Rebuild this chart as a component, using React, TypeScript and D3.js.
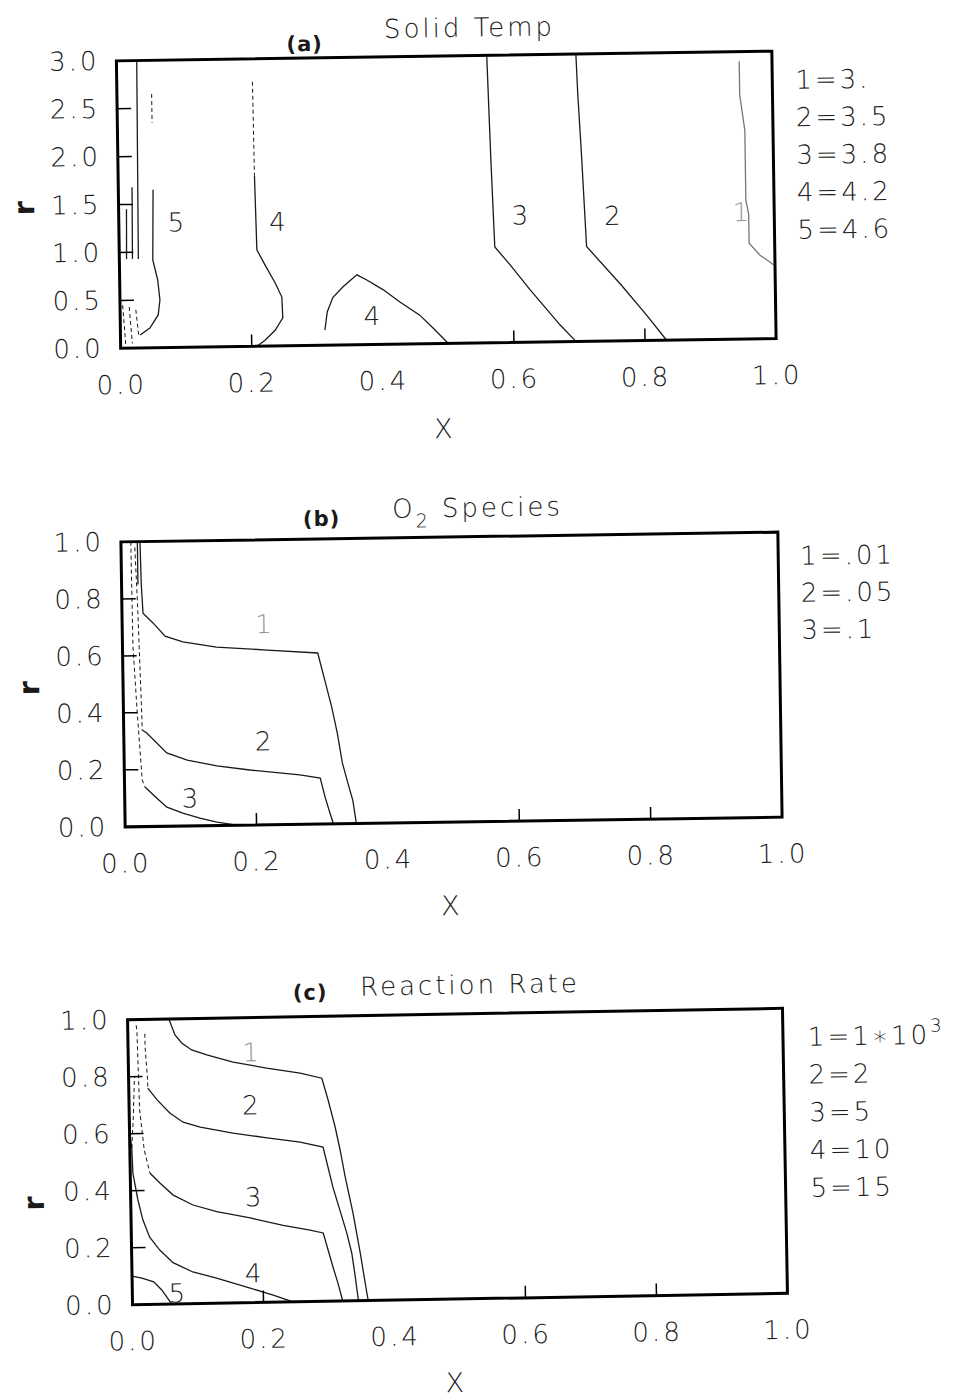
import React, { useEffect, useRef } from "react";
import * as d3 from "d3";

// axes
const xTicks = [0, 0.2, 0.4, 0.6, 0.8, 1.0];
const xTickMarks = [0.2, 0.6, 0.8];
const tempTicks = [0, 0.5, 1.0, 1.5, 2.0, 2.5, 3.0];
const tempTickMarks = [0.5, 1.0, 1.5, 2.0, 2.5];
const unitTicks = [0, 0.2, 0.4, 0.6, 0.8, 1.0];
const unitTickMarks = [0.2, 0.4, 0.6, 0.8];

// contour level legends
const tempLegend = ["1=3.", "2=3.5", "3=3.8", "4=4.2", "5=4.6"];
const o2Legend = ["1=.01", "2=.05", "3=.1"];
const rateLegend = ["1=1\u221710", "2=2", "3=5", "4=10", "5=15"];
const rateLegendSup = ["3", "", "", "", ""];

// (a) solid temp contours, points are [x, r]
const temp1 = [[0.95, 2.9], [0.95, 2.55], [0.957, 2.18], [0.957, 1.45], [0.961, 1.3], [0.961, 1.0], [0.977, 0.875], [1.0, 0.76]];
const temp2 = [[0.701, 3.0], [0.703, 2.58], [0.707, 2.0], [0.713, 0.99], [0.765, 0.583], [0.803, 0.266], [0.833, 0]];
const temp3 = [[0.565, 3.0], [0.569, 1.9], [0.571, 1.44], [0.573, 1.0], [0.596, 0.81], [0.626, 0.546], [0.671, 0.175], [0.695, 0]];
const temp4a = [[0.208, 1.78], [0.21, 1.006], [0.222, 0.848], [0.237, 0.66], [0.247, 0.51], [0.248, 0.293], [0.236, 0.165], [0.22, 0.06], [0.208, 0]];
const temp4aTop = [[0.207, 2.76], [0.208, 1.78]];
const temp4b = [[0.312, 0.16], [0.316, 0.35], [0.325, 0.5], [0.341, 0.61], [0.362, 0.73], [0.377, 0.675], [0.402, 0.57], [0.427, 0.44], [0.457, 0.3], [0.477, 0.164], [0.5, 0]];
const temp5 = [[0.053, 1.65], [0.051, 0.917], [0.058, 0.71], [0.061, 0.5], [0.058, 0.343], [0.045, 0.208], [0.03, 0.136]];
const temp5Top = [[0.053, 2.65], [0.053, 2.35]];
const tempWall1 = [[0.031, 3.0], [0.029, 0.93]];
const tempWall2 = [[0.021, 1.68], [0.02, 0.93]];
const tempWall3 = [[0.012, 1.45], [0.011, 0.93]];
const tempWall4 = [[0.004, 0.45], [0.008, 0.02]];
const tempWall5 = [[0.014, 0.43], [0.018, 0.05]];
const tempWall6 = [[0.024, 0.4], [0.028, 0.12]];

// (b) O2 species contours
const o2c1 = [[0.029, 1.0], [0.03, 0.85], [0.032, 0.749], [0.047, 0.714], [0.065, 0.667], [0.092, 0.646], [0.143, 0.626], [0.22, 0.613], [0.297, 0.6], [0.307, 0.505], [0.317, 0.41], [0.325, 0.318], [0.332, 0.213], [0.34, 0.142], [0.347, 0.082], [0.352, 0]];
const o2c1Wall = [[0.025, 1.0], [0.025, 0.85]];
const o2c2 = [[0.028, 0.339], [0.035, 0.328], [0.065, 0.257], [0.096, 0.231], [0.141, 0.209], [0.191, 0.193], [0.267, 0.173], [0.298, 0.161], [0.305, 0.094], [0.312, 0.038], [0.317, 0]];
const o2c2Wall = [[0.021, 0.98], [0.024, 0.77], [0.028, 0.375], [0.028, 0.339]];
const o2c3 = [[0.031, 0.139], [0.049, 0.099], [0.064, 0.067], [0.088, 0.045], [0.114, 0.027], [0.14, 0.012], [0.17, 0]];
const o2c3Wall = [[0.015, 1.0], [0.016, 0.63], [0.021, 0.4], [0.027, 0.164], [0.031, 0.139]];

// (c) reaction rate contours
const rate1 = [[0.063, 1.0], [0.072, 0.944], [0.082, 0.915], [0.097, 0.89], [0.12, 0.872], [0.16, 0.845], [0.211, 0.822], [0.262, 0.802], [0.295, 0.783], [0.304, 0.706], [0.314, 0.611], [0.321, 0.53], [0.328, 0.435], [0.339, 0.308], [0.349, 0.167], [0.358, 0.027], [0.36, 0]];
const rate2 = [[0.029, 0.759], [0.043, 0.717], [0.062, 0.67], [0.082, 0.637], [0.108, 0.619], [0.158, 0.596], [0.21, 0.577], [0.26, 0.56], [0.295, 0.541], [0.302, 0.471], [0.309, 0.4], [0.319, 0.319], [0.329, 0.238], [0.336, 0.168], [0.34, 0.098], [0.345, 0]];
const rate2Wall = [[0.026, 0.95], [0.026, 0.903], [0.029, 0.787], [0.029, 0.759]];
const rate3 = [[0.03, 0.461], [0.045, 0.425], [0.065, 0.382], [0.095, 0.346], [0.131, 0.321], [0.182, 0.297], [0.232, 0.269], [0.273, 0.251], [0.293, 0.24], [0.3, 0.18], [0.307, 0.12], [0.314, 0.064], [0.321, 0]];
const rate3Wall = [[0.013, 0.98], [0.014, 0.957], [0.016, 0.682], [0.022, 0.542], [0.03, 0.461]];
const rate4 = [[0.0, 0.6], [0.003, 0.553], [0.004, 0.462], [0.011, 0.367], [0.018, 0.297], [0.028, 0.236], [0.043, 0.19], [0.063, 0.145], [0.093, 0.111], [0.129, 0.088], [0.18, 0.051], [0.215, 0.025], [0.245, 0]];
const rate4Wall = [[0.003, 0.55], [0.006, 0.65], [0.009, 0.8]];
const rate5 = [[0.0, 0.1], [0.015, 0.093], [0.033, 0.079], [0.045, 0.05], [0.06, 0]];

// contour number labels [text, x, r, faint]
const tempLabels = [["5", 0.087, 1.31, 0], ["4", 0.242, 1.3, 0], ["4", 0.384, 0.3, 0], ["3", 0.612, 1.33, 0], ["2", 0.753, 1.31, 0], ["1", 0.949, 1.33, 1]];
const o2Labels = [["1", 0.215, 0.705, 1], ["2", 0.212, 0.294, 0], ["3", 0.099, 0.098, 0]];
const rateLabels = [["1", 0.187, 0.879, 1], ["2", 0.185, 0.693, 0], ["3", 0.187, 0.371, 0], ["4", 0.185, 0.104, 0], ["5", 0.068, 0.038, 0]];

const FONT = "'DejaVu Sans', sans-serif";
const INK = "#1a1a1a";

const panels = [
  {
    frame: { l: 118.5, r: 774, t: 56, b: 343.5 },
    angle: -0.85,
    yMax: 3,
    yTicks: tempTicks,
    yMarks: tempTickMarks,
    contours: [
      { pts: temp1, faint: true }, { pts: temp2 }, { pts: temp3 }, { pts: temp4a },
      { pts: temp4aTop, dash: true }, { pts: temp4b }, { pts: temp5 }, { pts: temp5Top, dash: true },
      { pts: tempWall1 }, { pts: tempWall2 }, { pts: tempWall3 },
      { pts: tempWall4, dash: true }, { pts: tempWall5, dash: true }, { pts: tempWall6, dash: true },
    ],
    labels: tempLabels,
    legend: tempLegend,
    legendSup: [],
    legendPos: [797, 94, 37.5],
    tag: ["(a)", 307, 49],
    title: [[{ t: "Solid Temp" }], 472, 37],
    xLabel: [440, 438],
    rLabel: [24, 202],
  },
  {
    frame: { l: 123, r: 780, t: 537, b: 822 },
    angle: -0.85,
    yMax: 1,
    yTicks: unitTicks,
    yMarks: unitTickMarks,
    contours: [
      { pts: o2c1 }, { pts: o2c1Wall }, { pts: o2c2 }, { pts: o2c2Wall, dash: true },
      { pts: o2c3 }, { pts: o2c3Wall, dash: true },
    ],
    labels: o2Labels,
    legend: o2Legend,
    legendSup: [],
    legendPos: [802, 570, 37],
    tag: ["(b)", 324, 524],
    title: [[{ t: "O" }, { t: "2", sub: true }, { t: " Species" }], 480, 517],
    xLabel: [447, 915],
    rLabel: [29, 682],
  },
  {
    frame: { l: 130, r: 785, t: 1014, b: 1299 },
    angle: -1.0,
    yMax: 1,
    yTicks: unitTicks,
    yMarks: unitTickMarks,
    contours: [
      { pts: rate1 }, { pts: rate2 }, { pts: rate2Wall, dash: true }, { pts: rate3 },
      { pts: rate3Wall, dash: true }, { pts: rate4 }, { pts: rate4Wall, dash: true }, { pts: rate5 },
    ],
    labels: rateLabels,
    legend: rateLegend,
    legendSup: rateLegendSup,
    legendPos: [810, 1052, 37.75],
    tag: ["(c)", 313, 997],
    title: [[{ t: "Reaction Rate" }], 473, 994],
    xLabel: [451, 1392],
    rLabel: [33, 1196],
  },
];

function drawPanel(root, p) {
  const { l, r, t, b } = p.frame;
  const g = root.append("g").attr("transform", `rotate(${p.angle},${(l + r) / 2},${(t + b) / 2})`);

  const x = d3.scaleLinear().domain([0, 1]).range([l, r]);
  const y = d3.scaleLinear().domain([0, p.yMax]).range([b, t]);
  const line = d3.line().x((d) => x(d[0])).y((d) => y(d[1]));

  // contour lines
  p.contours.forEach((c) => {
    g.append("path")
      .attr("d", line(c.pts))
      .attr("fill", "none")
      .attr("stroke", c.faint ? "#777" : INK)
      .attr("stroke-width", c.dash ? 1 : 1.3)
      .attr("stroke-dasharray", c.dash ? "4,3" : null);
  });

  // contour numbers
  g.selectAll(".lbl")
    .data(p.labels)
    .enter()
    .append("text")
    .attr("x", (d) => x(d[1]))
    .attr("y", (d) => y(d[2]))
    .attr("dy", "0.36em")
    .attr("text-anchor", "middle")
    .attr("font-family", FONT)
    .attr("font-weight", 200)
    .attr("font-size", 26)
    .attr("fill", (d) => (d[3] ? "#999" : INK))
    .text((d) => d[0]);

  // frame
  g.append("rect")
    .attr("x", l)
    .attr("y", t)
    .attr("width", r - l)
    .attr("height", b - t)
    .attr("fill", "none")
    .attr("stroke", "#000")
    .attr("stroke-width", 3);

  // inward tick marks
  g.selectAll(".ytm")
    .data(p.yMarks)
    .enter()
    .append("line")
    .attr("x1", l)
    .attr("x2", l + 14)
    .attr("y1", (d) => y(d))
    .attr("y2", (d) => y(d))
    .attr("stroke", "#000")
    .attr("stroke-width", 1.5);
  g.selectAll(".xtm")
    .data(xTickMarks)
    .enter()
    .append("line")
    .attr("x1", (d) => x(d))
    .attr("x2", (d) => x(d))
    .attr("y1", b)
    .attr("y2", b - 12)
    .attr("stroke", "#000")
    .attr("stroke-width", 1.5);

  // tick labels
  const yAxis = d3.axisLeft(y).tickValues(p.yTicks).tickFormat(d3.format(".1f")).tickSize(0).tickPadding(17);
  const xAxis = d3.axisBottom(x).tickValues(xTicks).tickFormat(d3.format(".1f")).tickSize(0).tickPadding(27);
  [
    g.append("g").attr("transform", `translate(${l},0)`).call(yAxis),
    g.append("g").attr("transform", `translate(0,${b})`).call(xAxis),
  ].forEach((a) => {
    a.select(".domain").remove();
    a.attr("font-family", FONT).attr("font-size", 26).attr("font-weight", 200).attr("color", INK);
    a.selectAll("text").attr("letter-spacing", 3);
  });

  // legend
  const leg = g.append("g").attr("font-family", FONT).attr("font-size", 26).attr("font-weight", 200).attr("fill", INK);
  p.legend.forEach((s, i) => {
    const tx = leg.append("text")
      .attr("x", p.legendPos[0])
      .attr("y", p.legendPos[1] + i * p.legendPos[2])
      .attr("letter-spacing", 3)
      .text(s);
    if (p.legendSup[i]) {
      tx.append("tspan").attr("dy", -12).attr("font-size", 18).text(p.legendSup[i]);
    }
  });

  // titles
  g.append("text")
    .attr("x", p.tag[1])
    .attr("y", p.tag[2])
    .attr("text-anchor", "middle")
    .attr("font-family", FONT)
    .attr("font-weight", "bold")
    .attr("font-size", 21)
    .attr("letter-spacing", 1)
    .attr("fill", INK)
    .text(p.tag[0]);

  const title = g.append("text")
    .attr("x", p.title[1])
    .attr("y", p.title[2])
    .attr("text-anchor", "middle")
    .attr("font-family", FONT)
    .attr("font-weight", 200)
    .attr("font-size", 26)
    .attr("letter-spacing", 3)
    .attr("fill", INK);
  p.title[0].forEach((seg, i, arr) => {
    const sp = title.append("tspan").text(seg.t);
    if (seg.sub) sp.attr("dy", 10).attr("font-size", 19);
    else if (i > 0 && arr[i - 1].sub) sp.attr("dy", -10);
  });

  g.append("text")
    .attr("x", p.xLabel[0])
    .attr("y", p.xLabel[1])
    .attr("text-anchor", "middle")
    .attr("font-family", FONT)
    .attr("font-weight", 200)
    .attr("font-size", 27)
    .attr("fill", INK)
    .text("X");

  g.append("text")
    .attr("transform", `translate(${p.rLabel[0]},${p.rLabel[1]}) rotate(-90)`)
    .attr("text-anchor", "middle")
    .attr("dy", "0.35em")
    .attr("font-family", FONT)
    .attr("font-weight", "bold")
    .attr("font-size", 29)
    .attr("fill", INK)
    .text("r");
}

const ContourFigure = () => {
  const ref = useRef(null);

  useEffect(() => {
    const svg = d3.select(ref.current);
    svg.selectAll("*").remove();
    svg.append("rect").attr("width", 961).attr("height", 1397).attr("fill", "#fff");
    panels.forEach((p) => drawPanel(svg, p));
  }, []);

  return (
    <svg
      ref={ref}
      width={961}
      height={1397}
      style={{ position: "absolute", left: 0, top: 0, display: "block" }}
    />
  );
};

export default function App() {
  return <ContourFigure />;
}
